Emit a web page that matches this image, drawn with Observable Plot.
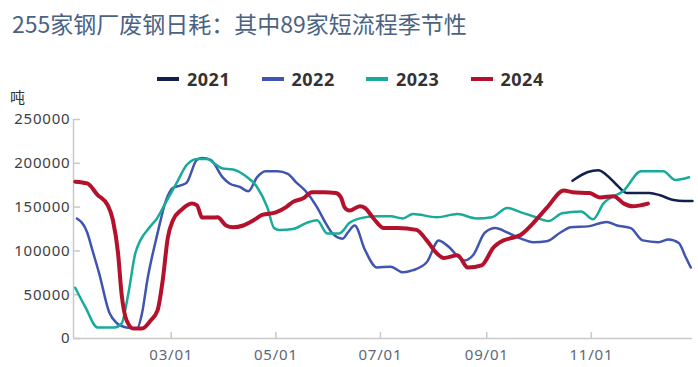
<!DOCTYPE html>
<html>
<head>
<meta charset="utf-8">
<script src="https://cdn.jsdelivr.net/npm/d3@7"></script>
<script src="https://cdn.jsdelivr.net/npm/@observablehq/plot@0.6"></script>
<style>
  html, body { margin: 0; padding: 0; background: #fff; }
  #wrap { position: relative; width: 698px; height: 367px; overflow: hidden; font-family: "Noto Sans", "Noto Sans CJK SC", sans-serif; }
  #title { position: absolute; left: 12px; top: 12px; font-size: 23px; line-height: 1; color: #4a6383; font-family: "Noto Sans CJK SC", "Noto Sans", sans-serif; white-space: nowrap; }
  #unit { position: absolute; left: 10px; top: 89px; font-size: 15px; line-height: 1; color: #333; font-family: "Noto Sans CJK SC", sans-serif; }
  #legend { position: absolute; left: 157px; top: 70px; display: flex; height: 18px; }
  .item { width: 104.5px; display: flex; align-items: center; }
  .sw { width: 22px; height: 4px; margin-right: 8px; }
  .lab { font-size: 18px; font-weight: bold; color: #333; line-height: 18px; letter-spacing: 0.5px; }
  #chart { position: absolute; left: 0; top: 0; }
  #chart [aria-label="y-axis tick label"] text, #chart [aria-label="x-axis tick label"] text { letter-spacing: 0.8px; }
</style>
</head>
<body>
<div id="wrap">
  <div id="chart"></div>
  <div id="title">255家钢厂废钢日耗：其中89家短流程季节性</div>
  <div id="legend"></div>
  <div id="unit">吨</div>
</div>
<script>
// ---- data (month-day, value in tons) ----
const years = ["2021", "2022", "2023", "2024"];
const colors = ["#13204d", "#4055b0", "#18ab9a", "#b3112c"];
const widths = [2.5, 2.5, 2.5, 4];

const dates2021 = ["10-21","10-30","11-05","11-10","11-16","11-22","12-05","12-11","12-19","12-25","12-30"];
const values2021 = [180000,190000,192000,186500,175000,166000,166000,163500,158000,157000,157000];

const dates2022 = ["01-05","01-11","01-14","01-18","01-24","01-28","02-03","02-09","02-12","02-15","02-21","02-26","03-02","03-07","03-10","03-16","03-19","03-24","03-31","04-04","04-10","04-15","04-20","04-25","05-02","05-08","05-13","05-18","05-25","05-30","06-03","06-09","06-12","06-16","06-22","06-29","07-07","07-14","07-20","07-28","08-04","08-09","08-19","08-24","08-31","09-06","09-13","09-21","09-28","10-06","10-14","10-20","10-30","11-06","11-10","11-16","11-24","12-01","12-10","12-16","12-22","12-26","12-29"];
const values2022 = [137000,121000,101000,74000,29000,18000,12600,11400,29000,66000,120000,158000,172000,175000,178000,204000,206000,204000,184000,177000,173000,168000,184000,191000,191000,188000,178000,169000,150000,132000,120000,114000,121000,129000,101000,81000,82000,75500,78000,87000,112000,106000,89000,95000,121000,126000,121000,114000,110000,111000,121000,127000,128000,131500,133000,129000,126000,112000,110000,113000,109000,93000,81000];

const dates2023 = ["01-04","01-10","01-17","01-27","01-31","02-04","02-08","02-11","02-16","02-21","02-26","03-04","03-10","03-16","03-22","03-26","03-31","04-06","04-13","04-20","04-26","04-30","05-03","05-11","05-19","05-25","05-31","06-07","06-13","06-21","06-29","07-07","07-14","07-20","08-03","08-15","08-26","09-04","09-13","09-21","09-28","10-07","10-15","10-26","11-02","11-08","11-20","11-30","12-13","12-20","12-28"];
const values2023 = [58000,35500,12600,12600,17000,51500,97000,112000,126000,138000,156000,177000,198000,205000,205000,200000,194000,193000,186000,173000,150000,126000,124000,125000,132000,135000,120000,120000,132000,138000,139500,139500,137000,142000,138500,142000,137000,138500,149000,144000,139500,134000,143000,145000,136000,154000,169000,191000,191000,181000,184000];

const dates2024 = ["01-04","01-11","01-17","01-23","01-26","01-29","01-31","02-03","02-07","02-12","02-17","02-21","02-24","02-27","03-02","03-07","03-13","03-16","03-19","03-25","03-28","04-02","04-06","04-12","04-18","04-23","05-01","05-07","05-11","05-17","05-22","05-29","06-05","06-08","06-10","06-13","06-19","06-22","06-27","07-03","07-11","07-22","07-28","08-03","08-07","08-15","08-21","08-29","09-05","09-08","09-22","09-28","10-06","10-16","10-21","10-31","11-06","11-14","11-20","11-25","12-04"];
const values2024 = [179000,177000,164000,152000,135000,97000,51500,20600,11400,11400,20600,32000,66000,115000,135000,147000,154000,152000,138000,138000,138500,129000,127000,129000,135000,141000,144000,150000,156000,160000,167000,167000,166000,161000,150000,146000,151000,149000,137000,126000,126000,124000,112000,97000,92000,95000,81000,83500,104000,109000,120000,131500,149000,169000,167000,166000,161000,162500,154000,151000,154000];

const yTicks = [0, 50000, 100000, 150000, 200000, 250000];
const xTickDates = ["03-01", "05-01", "07-01", "09-01", "11-01"];
const xDomainDates = ["01-03", "12-30"];

// ---- build ----
const parse = s => new Date(`2021-${s}T00:00:00Z`);
const allDates = [dates2021, dates2022, dates2023, dates2024];
const allValues = [values2021, values2022, values2023, values2024];
const series = years.map((y, k) => allDates[k].map((d, i) => ({year: y, date: parse(d), value: allValues[k][i]})));

const axisColor = "#c9c9c9";
const chart = Plot.plot({
  width: 698,
  height: 367,
  marginLeft: 73,
  marginRight: 6,
  marginTop: 119,
  marginBottom: 29,
  style: {fontFamily: "'Noto Sans', 'Noto Sans CJK SC', sans-serif", background: "transparent", overflow: "visible"},
  x: {type: "utc", domain: xDomainDates.map(parse)},
  y: {domain: [yTicks[0], yTicks[yTicks.length - 1]]},
  marks: [
    Plot.ruleY([yTicks[0]], {stroke: axisColor, strokeWidth: 1.5}),
    Plot.ruleX([parse(xDomainDates[0])], {stroke: axisColor, strokeWidth: 1.5}),
    Plot.axisY({ticks: yTicks, tickSize: -7, tickPadding: 10, stroke: axisColor, strokeWidth: 1.5, tickFormat: d3.format("d"), fontSize: 15, fill: "#404040", label: null}),
    Plot.axisX({ticks: xTickDates.map(parse), tickSize: -6, tickPadding: 17, stroke: axisColor, strokeWidth: 1.5, tickFormat: d3.utcFormat("%m/%d"), fontSize: 15, fill: "#5c6878", label: null}),
    ...series.map((data, k) => Plot.line(data, {x: "date", y: "value", stroke: colors[k], strokeWidth: widths[k], curve: "monotone-x"}))
  ]
});
document.getElementById("chart").appendChild(chart);

const legend = document.getElementById("legend");
years.forEach((y, k) => {
  const it = document.createElement("div");
  it.className = "item";
  it.innerHTML = `<span class="sw" style="background:${colors[k]}"></span><span class="lab">${y}</span>`;
  legend.appendChild(it);
});
</script>
</body>
</html>
